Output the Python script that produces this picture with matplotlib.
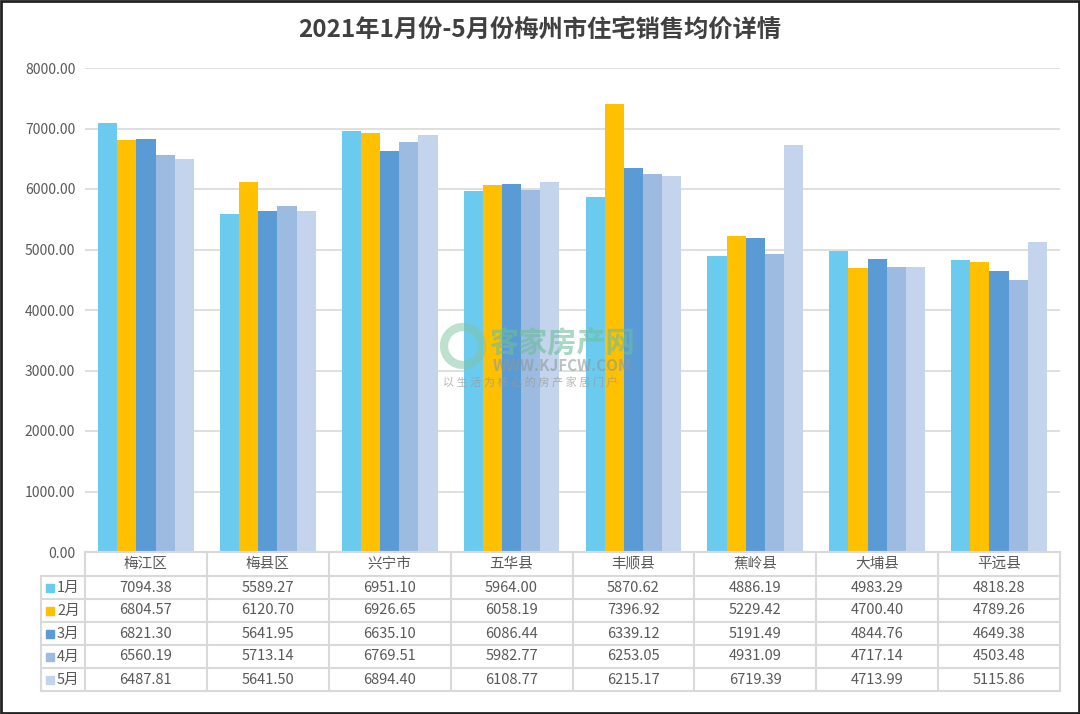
import matplotlib
matplotlib.use("Agg")
import matplotlib.pyplot as plt
from matplotlib.patches import Rectangle
import numpy as np

plt.rcParams['font.family'] = ['Noto Sans CJK SC', 'DejaVu Sans']

title = "2021年1月份-5月份梅州市住宅销售均价详情"
categories = ["梅江区", "梅县区", "兴宁市", "五华县", "丰顺县", "蕉岭县", "大埔县", "平远县"]
months = ["1月", "2月", "3月", "4月", "5月"]
m1 = [7094.38, 5589.27, 6951.10, 5964.00, 5870.62, 4886.19, 4983.29, 4818.28]
m2 = [6804.57, 6120.70, 6926.65, 6058.19, 7396.92, 5229.42, 4700.40, 4789.26]
m3 = [6821.30, 5641.95, 6635.10, 6086.44, 6339.12, 5191.49, 4844.76, 4649.38]
m4 = [6560.19, 5713.14, 6769.51, 5982.77, 6253.05, 4931.09, 4717.14, 4503.48]
m5 = [6487.81, 5641.50, 6894.40, 6108.77, 6215.17, 6719.39, 4713.99, 5115.86]
series = [m1, m2, m3, m4, m5]
colors = ["#6ACBEE", "#FFC000", "#5B9BD5", "#9DBBE1", "#C3D4EC"]
yticks = [0, 1000, 2000, 3000, 4000, 5000, 6000, 7000, 8000]

W, H = 1080, 714
fig = plt.figure(figsize=(W / 100, H / 100), dpi=100)

# plot area in pixels
L, R, T, B = 85, 1060, 68, 552
ax = fig.add_axes([L / W, (H - B) / H, (R - L) / W, (B - T) / H])
n = len(categories)
x = np.arange(n)
bw = 0.157
for i, (s, c) in enumerate(zip(series, colors)):
    ax.bar(x + (i - 2) * bw, s, width=bw, color=c, zorder=3, label=months[i])
ax.set_xlim(-0.5, n - 0.5)
ax.set_ylim(0, 8000)
ax.set_yticks(yticks)
ax.set_yticklabels([f"{v:.2f}" for v in yticks], color="#595959", fontsize=10)
ax.tick_params(axis='y', length=0, pad=7)
ax.set_xticks([])
ax.grid(axis='y', color="#D9D9D9", linewidth=1.2, zorder=0)
for sp in ax.spines.values():
    sp.set_visible(False)
ax.axhline(0, color="#D9D9D9", linewidth=1.5, zorder=4)

ov2 = fig.add_axes([0, 0, 1, 1], zorder=5)
ov2.set_xlim(0, W)
ov2.set_ylim(H, 0)
ov2.axis('off')
ov2.patch.set_alpha(0)

fig.text(0.5, 1 - 30 / H, title, ha='center', va='center', fontsize=17.5,
         fontweight='bold', color="#404040")

# table
lc = "#D9D9D9"
lw = 1.5
colw = (R - L) / n
rows_y = [552, 576, 599, 622, 645, 668, 691]
tl = 41
ov2.plot([L, R], [rows_y[0], rows_y[0]], color=lc, lw=lw)
for yy in rows_y[1:]:
    ov2.plot([tl, R], [yy, yy], color=lc, lw=lw)
for j in range(n + 1):
    xx = L + j * colw
    ov2.plot([xx, xx], [rows_y[0], rows_y[-1]], color=lc, lw=lw)
ov2.plot([tl, tl], [rows_y[1], rows_y[-1]], color=lc, lw=lw)

txt = "#595959"
for j, cat in enumerate(categories):
    cx = L + (j + 0.5) * colw
    ov2.text(cx, (rows_y[0] + rows_y[1]) / 2, cat, ha='center', va='center',
             fontsize=10.5, color=txt)
for i, s in enumerate(series):
    cy = (rows_y[i + 1] + rows_y[i + 2]) / 2
    ov2.add_patch(Rectangle((46, cy - 4), 8, 8, color=colors[i]))
    ov2.text(57, cy, months[i], ha='left', va='center', fontsize=10.5, color=txt)
    for j, v in enumerate(s):
        cx = L + (j + 0.5) * colw
        ov2.text(cx, cy, f"{v:.2f}", ha='center', va='center', fontsize=10.5, color=txt)

# watermark
ov2.add_patch(plt.Circle((463, 346), 19, facecolor="none", edgecolor="#7FC4A0",
                         lw=6, alpha=0.5))
ov2.text(489, 343, "客家房产网", ha='left', va='center', fontsize=21,
         color="#6DBE9A", alpha=0.6, fontweight='bold')
ov2.text(493, 366, "WWW.KJFCW.COM", ha='left', va='center', fontsize=11,
         color="#8A9A9A", alpha=0.6, fontweight='bold')
ov2.text(443, 382, "以 生 活 为 核 心 的 房 产 家 居 门 户", ha='left', va='center',
         fontsize=8, color="#999999", alpha=0.7)

# outer frame
ov2.add_patch(Rectangle((1, 1), W - 2.5, H - 2.5, fill=False, edgecolor="#222222", lw=2))

fig.savefig("out.png", dpi=100)
